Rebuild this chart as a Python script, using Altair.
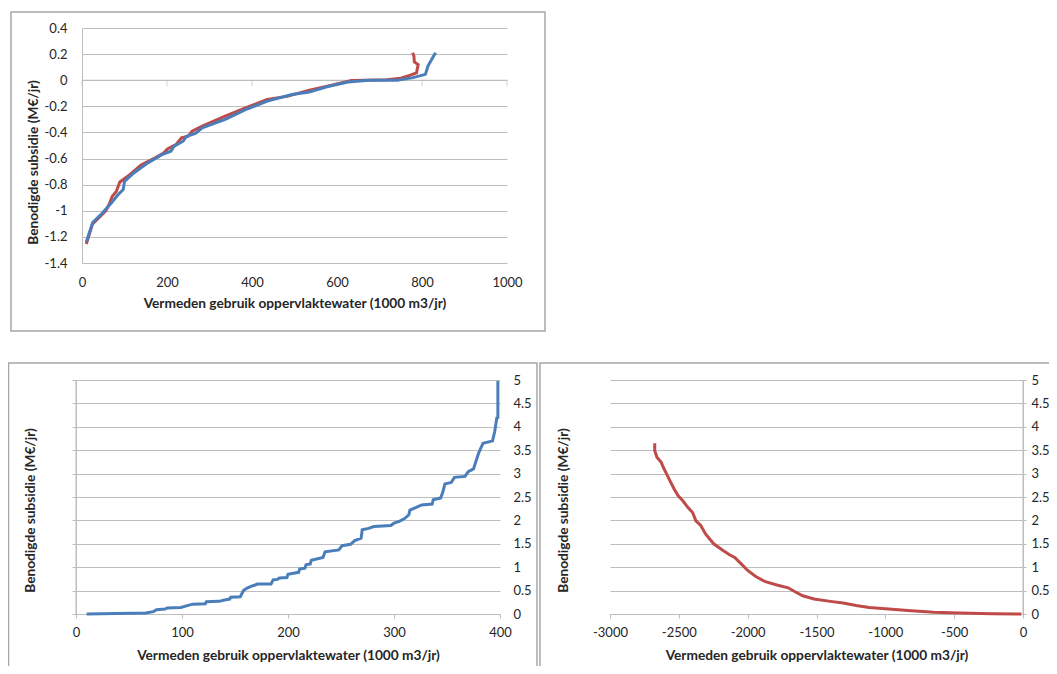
import altair as alt
import pandas as pd

# ---------------- data ----------------
top_blue_x = [10, 25, 48, 69, 85, 97, 100, 122, 155, 188,
              209, 217, 238, 246, 267, 283, 337, 386, 436, 494,
              535, 576, 626, 675, 742, 779, 808, 814, 823, 832]
top_blue_y = [-1.24, -1.09, -1.017, -0.94, -0.876, -0.838, -0.774, -0.71, -0.633, -0.57,
              -0.544, -0.505, -0.467, -0.429, -0.408, -0.365, -0.30, -0.224, -0.16, -0.109,
              -0.091, -0.05, -0.014, 0.0, 0.0, 0.02, 0.045, 0.108, 0.16, 0.21]

top_red_x = [10, 25, 56, 64, 71, 81, 89, 106, 139, 172,
             192, 201, 221, 234, 250, 259, 283, 337, 386, 436,
             485, 535, 585, 634, 667, 717, 750, 771, 787, 791,
             782, 781, 778]
top_red_y = [-1.255, -1.10, -1.00, -0.95, -0.89, -0.85, -0.78, -0.74, -0.65, -0.595,
             -0.557, -0.526, -0.493, -0.441, -0.429, -0.39, -0.352, -0.275, -0.21, -0.147,
             -0.122, -0.076, -0.04, -0.002, 0.0, 0.004, 0.016, 0.037, 0.057, 0.12,
             0.14, 0.185, 0.21]

bl_x = [10, 66, 73, 76, 84, 86, 99, 105, 110, 122,
        123, 135, 140, 145, 146, 155, 158, 161, 165, 169,
        171, 184, 186, 190, 192, 199, 200, 210, 211, 216,
        217, 221, 222, 233, 235, 248, 251, 259, 263, 269,
        270, 276, 281, 297, 300, 305, 310, 314, 315, 321,
        326, 336, 337, 344, 346, 348, 354, 357, 367, 370,
        375, 377, 380, 384, 393, 395, 397, 398, 398]
bl_y = [0, 0.02, 0.05, 0.09, 0.107, 0.128, 0.14, 0.18, 0.21, 0.22,
        0.26, 0.27, 0.30, 0.32, 0.36, 0.37, 0.50, 0.55, 0.59, 0.62,
        0.64, 0.64, 0.73, 0.74, 0.77, 0.78, 0.85, 0.89, 0.96, 0.98,
        1.05, 1.07, 1.15, 1.21, 1.33, 1.37, 1.46, 1.49, 1.57, 1.62,
        1.80, 1.83, 1.87, 1.89, 1.94, 1.98, 2.04, 2.12, 2.22, 2.28,
        2.33, 2.35, 2.44, 2.48, 2.60, 2.78, 2.81, 2.92, 2.94, 3.04,
        3.10, 3.24, 3.45, 3.65, 3.70, 3.90, 4.19, 4.20, 4.98]

br_x = [-2675, -2675, -2659, -2628, -2612, -2588, -2565, -2534, -2506, -2471,
        -2435, -2400, -2376, -2341, -2306, -2247, -2176, -2129, -2094, -2047,
        -2000, -1941, -1871, -1788, -1706, -1659, -1600, -1518, -1400, -1306,
        -1212, -1118, -976, -812, -647, -459, -224, -12]
br_y = [3.65, 3.49, 3.35, 3.24, 3.13, 2.99, 2.85, 2.67, 2.53, 2.42,
        2.28, 2.17, 1.99, 1.89, 1.71, 1.50, 1.35, 1.26, 1.21, 1.07,
        0.93, 0.80, 0.69, 0.62, 0.56, 0.48, 0.39, 0.32, 0.27, 0.235,
        0.18, 0.14, 0.107, 0.07, 0.04, 0.02, 0.007, 0.0]

top_x_ticks = [0, 200, 400, 600, 800, 1000]
top_y_ticks = [0.4, 0.2, 0, -0.2, -0.4, -0.6, -0.8, -1, -1.2, -1.4]
bl_x_ticks = [0, 100, 200, 300, 400]
br_x_ticks = [-3000, -2500, -2000, -1500, -1000, -500, 0]
b_y_ticks = [0, 0.5, 1, 1.5, 2, 2.5, 3, 3.5, 4, 4.5, 5]

X_TITLE = "Vermeden gebruik oppervlaktewater (1000 m3/jr)"
Y_TITLE = "Benodigde subsidie (M€/jr)"

# ---------------- style ----------------
FONT = "Lato"
TXT = "#262626"
GRID = "#bdbdbd"
FRAME = "#a6a6a6"
BLUE = "#4a7ebb"
RED = "#be4b48"
LBL = "(datum.value < 0 ? '-' : '') + format(abs(datum.value), '~g')"

common = dict(labelFont=FONT, labelFontSize=13, labelColor=TXT, labelFlush=False,
              titleFont=FONT, titleFontSize=13.7, titleFontWeight="bold",
              titleColor=TXT, labelExpr=LBL)

one = pd.DataFrame({"k": [0]})


def frame(x1, x2, y1, y2):
    return alt.Chart(one).mark_rect(fillOpacity=0, stroke=FRAME, strokeWidth=1.5).encode(
        x=alt.value(x1), x2=alt.value(x2), y=alt.value(y1), y2=alt.value(y2))


def series(xs, ys):
    return pd.DataFrame({"x": xs, "y": ys, "o": list(range(len(xs)))})


# ---------------- top chart ----------------
# plot group is 431 wide; the data range starts 6px in, so the gridlines
# stick out 6px to the left of the vertical axis, as in the reference
tx_s = alt.Scale(domain=[0, 1000], range=[6, 431], nice=False, zero=False)
ty_s = alt.Scale(domain=[-1.4, 0.4], nice=False, zero=False)
tx_a = alt.Axis(values=top_x_ticks, title=X_TITLE, grid=False, domain=False,
                ticks=False, tickSize=0, labelPadding=13, titlePadding=7, **common)
ty_a = alt.Axis(values=top_y_ticks, title=Y_TITLE, grid=True, gridColor=GRID,
                domain=True, domainColor=GRID, ticks=False, tickSize=0, offset=-6,
                labelPadding=15, titlePadding=4, titleY=134, **common)


def tline(df, color):
    return alt.Chart(df).mark_line(color=color, strokeWidth=3).encode(
        x=alt.X("x:Q", scale=tx_s, axis=tx_a),
        y=alt.Y("y:Q", scale=ty_s, axis=ty_a),
        order="o:Q")


zero_df = pd.DataFrame({"x": [0], "x2": [1000], "y": [0]})
zero_rule = alt.Chart(zero_df).mark_rule(color=GRID, strokeWidth=1).encode(
    x=alt.X("x:Q", scale=tx_s, axis=tx_a), x2="x2:Q",
    y=alt.Y("y:Q", scale=ty_s, axis=ty_a))
tick_df = pd.DataFrame({"x": top_x_ticks, "y": [0] * len(top_x_ticks)})
zero_ticks = alt.Chart(tick_df).mark_tick(orient="vertical", size=6, thickness=1,
                                          color=GRID, yOffset=3).encode(
    x=alt.X("x:Q", scale=tx_s, axis=tx_a),
    y=alt.Y("y:Q", scale=ty_s, axis=ty_a))

top = alt.layer(
    frame(-65, 469, -16, 303),
    zero_rule, zero_ticks,
    tline(series(top_red_x, top_red_y), RED),
    tline(series(top_blue_x, top_blue_y), BLUE),
).properties(width=431, height=235)

# ---------------- bottom-left chart ----------------
blx_s = alt.Scale(domain=[0, 400], nice=False, zero=False)
by_s = alt.Scale(domain=[0, 5], nice=False, zero=False)
blx_a = alt.Axis(values=bl_x_ticks, title=X_TITLE, grid=False, domain=True,
                 domainColor=GRID, ticks=True, tickColor=GRID, tickSize=4,
                 labelPadding=8, titlePadding=9, **common)
bly_left = alt.Axis(orient="left", values=b_y_ticks, title=Y_TITLE, labels=False,
                    grid=False, domain=True, domainColor=GRID, ticks=True,
                    tickColor=GRID, tickSize=4, titlePadding=34, titleY=130, **common)
bly_right = alt.Axis(orient="right", values=b_y_ticks, title=None, grid=True,
                     gridColor=GRID, domain=False, ticks=False, tickSize=0,
                     labelPadding=13, **common)

bl_line = alt.Chart(series(bl_x, bl_y)).mark_line(color=BLUE, strokeWidth=3).encode(
    x=alt.X("x:Q", scale=blx_s, axis=blx_a),
    y=alt.Y("y:Q", scale=by_s, axis=bly_left),
    order="o:Q")
bl_rule = alt.Chart(pd.DataFrame({"x": [0], "y": [0], "y2": [5]})).mark_rule(
    color=GRID, strokeWidth=1).encode(
    x=alt.X("x:Q", scale=blx_s, axis=blx_a),
    y=alt.Y("y:Q", scale=by_s, axis=bly_right), y2="y2:Q")

bl = alt.layer(
    frame(-67.5, 461, -17, 303),
    bl_line, bl_rule,
).resolve_axis(y="independent").properties(width=424, height=234)

# ---------------- bottom-right chart ----------------
brx_s = alt.Scale(domain=[-3000, 0], nice=False, zero=False)
brx_a = alt.Axis(values=br_x_ticks, title=X_TITLE, grid=False, domain=True,
                 domainColor=GRID, ticks=True, tickColor=GRID, tickSize=4,
                 labelPadding=8, titlePadding=9, **common)
bry_left = alt.Axis(orient="left", values=b_y_ticks, title=Y_TITLE, labels=False,
                    grid=False, domain=False, ticks=False, tickSize=0,
                    titlePadding=40, titleY=130, **common)
bry_right = alt.Axis(orient="right", values=b_y_ticks, title=None, grid=True,
                     gridColor=GRID, domain=True, domainColor=GRID, ticks=True,
                     tickColor=GRID, tickSize=3, labelPadding=5, **common)

br_line = alt.Chart(series(br_x, br_y)).mark_line(color=RED, strokeWidth=3).encode(
    x=alt.X("x:Q", scale=brx_s, axis=brx_a),
    y=alt.Y("y:Q", scale=by_s, axis=bry_left),
    order="o:Q")
br_rule = alt.Chart(pd.DataFrame({"x": [0], "y": [0], "y2": [5]})).mark_rule(
    color=GRID, strokeWidth=1).encode(
    x=alt.X("x:Q", scale=brx_s, axis=brx_a),
    y=alt.Y("y:Q", scale=by_s, axis=bry_right), y2="y2:Q")

br = alt.layer(
    frame(-70, 457, -17, 303),
    br_line, br_rule,
).resolve_axis(y="independent").properties(width=413, height=234)

bottom = alt.hconcat(bl, br, spacing=1)

# fixed 1041x658 canvas: the frames run on past its right and bottom edges, as in the reference
PAD_L, PAD_T = 68, 20
chart = alt.vconcat(top, bottom, spacing=30).properties(
    autosize=alt.AutoSizeParams(type="none"),
    padding={"left": PAD_L, "top": PAD_T, "right": 1041 - PAD_L, "bottom": 658 - PAD_T},
    background="white",
).configure_view(strokeWidth=0)

chart.save("out.html", embed_options={"renderer": "svg", "actions": False})
